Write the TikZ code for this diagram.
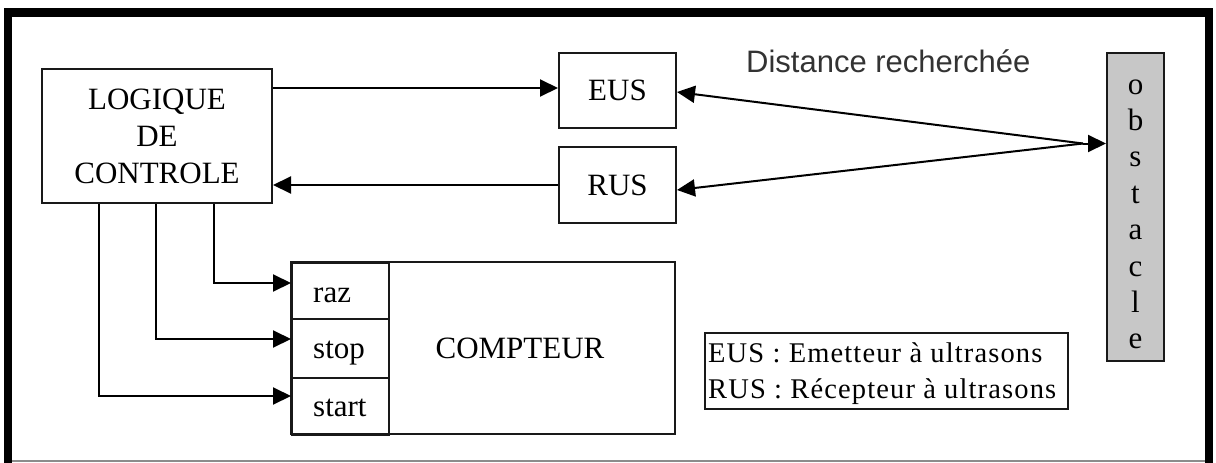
\documentclass[tikz,border=0pt]{standalone}
\usepackage{fontspec}
\setmainfont{Liberation Serif}
\newfontfamily\distfont{Liberation Sans}
\newfontfamily\legfont{Liberation Serif}[LetterSpace=4]
\usetikzlibrary{arrows.meta}
\begin{document}
\begin{tikzpicture}[x=1pt,y=-1pt,
  box/.style={draw=black!90,line width=2pt,inner sep=0pt},
  arr/.style={line width=2pt,-{Triangle[length=18pt,width=17pt]}},
  lbl/.style={font=\fontsize{31}{37}\selectfont,inner sep=0pt},
  legtxt/.style={font=\legfont\fontsize{28.5}{36}\selectfont,anchor=base west,inner sep=0pt}]
\useasboundingbox (0,0) rectangle (1216,463);
\fill[white] (0,0) rectangle (1216,463);
% frame
\draw[line width=8.5pt] (8,463) -- (8,12.5) -- (1209,12.5) -- (1209,463);
\draw[black!45,line width=2pt] (12,461) -- (1205,461);
% blocks
\node[box,lbl,align=center,minimum width=230pt,minimum height=134pt] (logic) at (157,136) {LOGIQUE\\DE\\CONTROLE};
\node[box,lbl,minimum width=117pt,minimum height=75pt] (EUS) at (617.5,90.5) {EUS};
\node[box,lbl,minimum width=117pt,minimum height=76pt] (RUS) at (617.5,185) {RUS};
\node[box,fill=black!22,minimum width=57pt,minimum height=308pt] (obst) at (1135.5,207) {};
\foreach \l [count=\i] in {o,b,s,t,a,c,l,e}
  \node[lbl,anchor=base] (ob\i) at (1135.5,{94+36.4*(\i-1)}) {\l};
% counter
\node[box,minimum width=384pt,minimum height=172pt] (cpt) at (483,348) {};
\node[lbl] (cptl) at (520,348) {COMPTEUR};
\node[box,anchor=north west,minimum width=97pt,minimum height=56pt] (raz) at (291,262) {};
\node[box,anchor=north west,minimum width=97pt,minimum height=59pt] (stop) at (291,318) {};
\node[box,anchor=north west,minimum width=97pt,minimum height=57pt] (start) at (291,377) {};
\node[lbl,anchor=base west] (razl) at (313,302) {raz};
\node[lbl,anchor=base west] (stopl) at (313,358) {stop};
\node[lbl,anchor=base west] (startl) at (313,416) {start};
% connectors
\draw[arr] ([yshift=48pt]logic.east) -- ([yshift=48pt]logic.east -| EUS.west);
\draw[arr] (RUS.west) -- (RUS.west -| logic.east);
\draw[arr] ([xshift=173pt]logic.south west) |- ([yshift=8pt]raz.west);
\draw[arr] ([xshift=115pt]logic.south west) |- ([yshift=9.5pt]stop.west);
\draw[arr] ([xshift=58pt]logic.south west) |- ([yshift=10.5pt]start.west);
\coordinate (m) at (1083,143.5);
\draw[arr] (m) -- ([yshift=-1.5pt]EUS.east);
\draw[arr] (m) -- ([yshift=-5pt]RUS.east);
\draw[arr] (m) -- ([yshift=63.5pt]obst.west);
% texts
\node[font=\distfont\fontsize{31}{37}\selectfont,text=black!80,anchor=base west,inner sep=0pt] (dist) at (746,72) {Distance recherchée};
\node[box,minimum width=363pt,minimum height=76pt] (leg) at (886.5,371) {};
\node[legtxt] (leg1) at (708,362) {EUS : Emetteur à ultrasons};
\node[legtxt] (leg2) at (708,398) {RUS : Récepteur à ultrasons};
\end{tikzpicture}
\end{document}
